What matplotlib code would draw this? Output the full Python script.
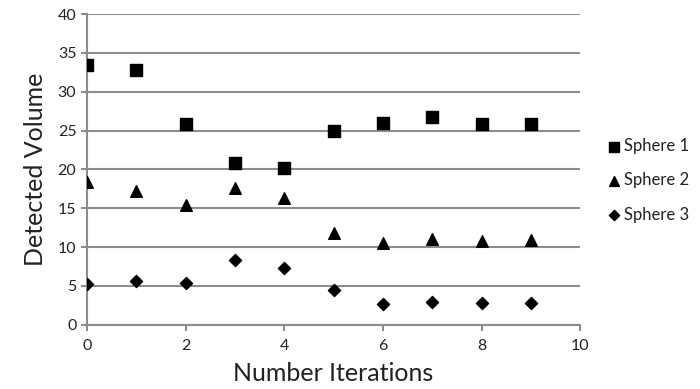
import matplotlib
matplotlib.use("Agg")
import matplotlib.pyplot as plt

iterations = [0, 1, 2, 3, 4, 5, 6, 7, 8, 9]
sphere1 = [33.5, 32.8, 25.8, 20.8, 20.2, 25.0, 26.0, 26.7, 25.9, 25.9]
sphere2 = [18.4, 17.2, 15.4, 17.6, 16.3, 11.8, 10.5, 11.0, 10.8, 10.9]
sphere3 = [5.25, 5.6, 5.4, 8.4, 7.3, 4.5, 2.7, 3.0, 2.8, 2.8]
xticks = [0, 2, 4, 6, 8, 10]
yticks = [0, 5, 10, 15, 20, 25, 30, 35, 40]

plt.rcParams['font.family'] = ['Lato', 'DejaVu Sans']

fig = plt.figure(figsize=(7, 3.89), dpi=100)
ax = fig.add_axes([0.124, 0.165, 0.705, 0.799])

ax.scatter(iterations, sphere1, marker='s', s=70, color='black', label='Sphere 1', zorder=3)
ax.scatter(iterations, sphere2, marker='^', s=70, color='black', label='Sphere 2', zorder=3)
ax.scatter(iterations, sphere3, marker='D', s=38, color='black', label='Sphere 3', zorder=3)

ax.set_xlim(0, 10)
ax.set_ylim(0, 40)
ax.set_xticks(xticks)
ax.set_yticks(yticks)
ax.yaxis.grid(True, color='#8c8c8c', linewidth=1.5)
ax.set_axisbelow(True)
for s in ['top', 'right']:
    ax.spines[s].set_visible(False)
for s in ['left', 'bottom']:
    ax.spines[s].set_color('#8c8c8c')
    ax.spines[s].set_linewidth(1.5)
ax.tick_params(axis='both', colors='#8c8c8c', length=4, width=1.5, labelsize=11.5, labelcolor='#222222')
ax.tick_params(axis='x', pad=6)

ax.set_xlabel('Number Iterations', fontsize=18, labelpad=7, color='#222222')
ax.set_ylabel('Detected Volume', fontsize=18, labelpad=8, color='#222222')

leg = ax.legend(loc='center left', bbox_to_anchor=(1.02, 0.465), frameon=False,
                fontsize=12, handletextpad=0.1, labelspacing=1.1, markerscale=0.85,
                handlelength=1.0)
for t in leg.get_texts():
    t.set_color('#222222')

fig.savefig('out.png', dpi=100)
